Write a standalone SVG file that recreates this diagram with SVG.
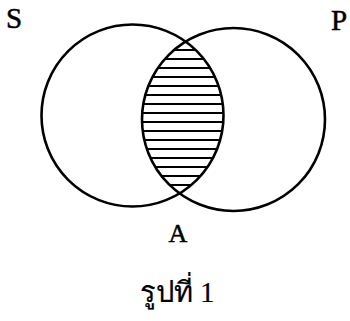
<svg xmlns="http://www.w3.org/2000/svg" width="350" height="321" viewBox="0 0 350 321">
<style>
.c{fill:none;stroke:#000;stroke-width:2.6}
.h{stroke:#000;stroke-width:1.8}
.t{font-family:"Liberation Serif","Times New Roman",serif;fill:#000;stroke:#000;stroke-width:0.5}
.th{font-family:"Liberation Serif","Times New Roman",serif;fill:#000;stroke:#000;stroke-width:0.2}
</style>
<defs>
<clipPath id="cs"><circle cx="132.5" cy="115.5" r="91"/></clipPath>
<clipPath id="cp"><circle cx="233.5" cy="119.5" r="91.5"/></clipPath>
</defs>
<rect width="350" height="321" fill="#fff"/>
<g id="hatch" clip-path="url(#cs)">
<g clip-path="url(#cp)">
<line class="h" x1="130" x2="240" y1="50" y2="50"/>
<line class="h" x1="130" x2="240" y1="59" y2="59"/>
<line class="h" x1="130" x2="240" y1="68" y2="68"/>
<line class="h" x1="130" x2="240" y1="77" y2="77"/>
<line class="h" x1="130" x2="240" y1="86" y2="86"/>
<line class="h" x1="130" x2="240" y1="95" y2="95"/>
<line class="h" x1="130" x2="240" y1="104" y2="104"/>
<line class="h" x1="130" x2="240" y1="113" y2="113"/>
<line class="h" x1="130" x2="240" y1="122" y2="122"/>
<line class="h" x1="130" x2="240" y1="131" y2="131"/>
<line class="h" x1="130" x2="240" y1="140" y2="140"/>
<line class="h" x1="130" x2="240" y1="149" y2="149"/>
<line class="h" x1="130" x2="240" y1="158" y2="158"/>
<line class="h" x1="130" x2="240" y1="167" y2="167"/>
<line class="h" x1="130" x2="240" y1="176" y2="176"/>
<line class="h" x1="130" x2="240" y1="185" y2="185"/>
</g>
</g>
<g id="S">
<circle class="c" cx="132.5" cy="115.5" r="91"/>
<text class="t" x="6" y="28" font-size="29">S</text>
</g>
<g id="P">
<circle class="c" cx="233.5" cy="119.5" r="91.5"/>
<text class="t" x="331" y="30" font-size="29">P</text>
</g>
<g id="A">
<text class="t" x="178" y="242" font-size="26" text-anchor="middle">A</text>
</g>
<g id="caption">
<text class="th" x="177" y="302" font-size="29" text-anchor="middle">รูปที่ 1</text>
</g>
</svg>
